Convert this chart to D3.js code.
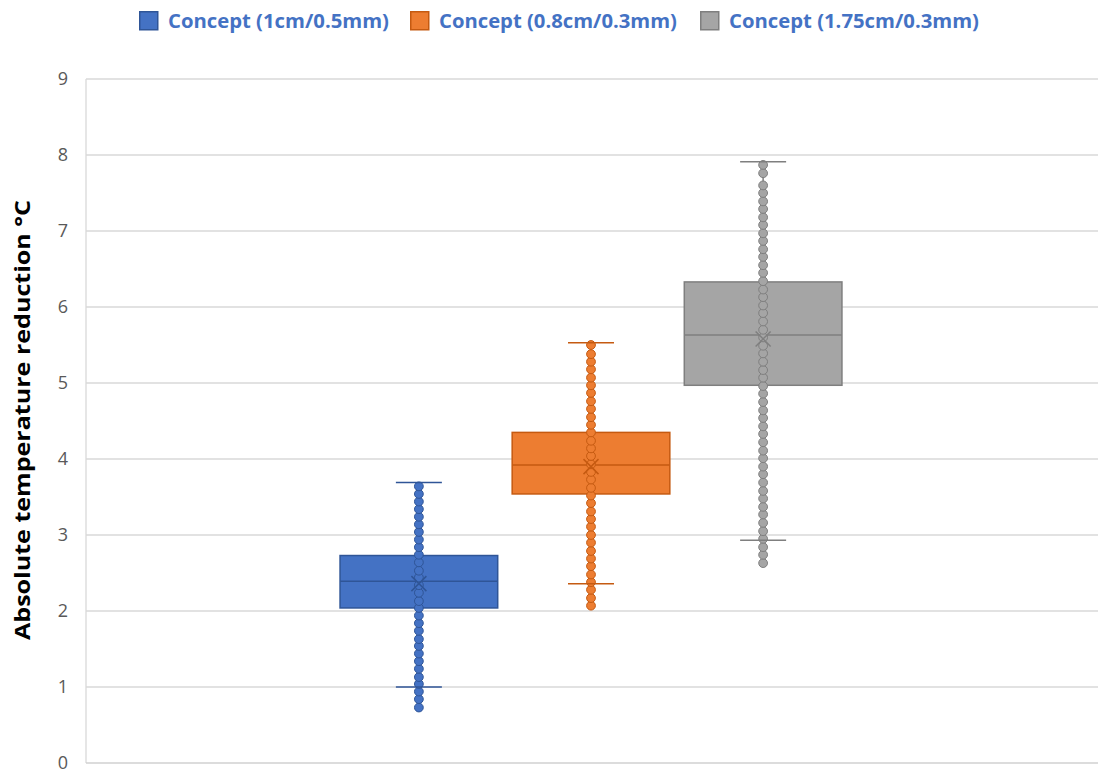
<!DOCTYPE html>
<html>
<head>
<meta charset="utf-8">
<script src="https://cdn.jsdelivr.net/npm/d3@7"></script>
<style>
  html, body { margin: 0; padding: 0; background: #ffffff; }
  svg { display: block; }
</style>
</head>
<body>
<svg id="chart" width="1098" height="773"></svg>
<script>
// Series names and colours
const seriesNames = ["Concept (1cm/0.5mm)", "Concept (0.8cm/0.3mm)", "Concept (1.75cm/0.3mm)"];
const fillColors = ["#4472C4", "#ED7D31", "#A5A5A5"];
const lineColors = ["#2F5597", "#C55A11", "#7F7F7F"];

// Box statistics per series
const q1Values = [2.04, 3.54, 4.97];
const medianValues = [2.39, 3.92, 5.63];
const q3Values = [2.73, 4.35, 6.33];
const whiskerLow = [1.00, 2.36, 2.93];
const whiskerHigh = [3.69, 5.53, 7.91];
const meanValues = [2.36, 3.90, 5.58];

// Individual data points per series
const pointsA = [0.73, 0.84, 0.94, 1.04, 1.13, 1.24, 1.34, 1.44, 1.54, 1.63, 1.74, 1.84, 1.94, 2.04, 2.13,
  2.24, 2.34, 2.44, 2.53, 2.64, 2.74, 2.84, 2.94, 3.04, 3.14, 3.24, 3.34, 3.44, 3.54, 3.64];
const pointsB = [2.07, 2.17, 2.28, 2.38, 2.48, 2.59, 2.69, 2.79, 2.90, 3.00, 3.11, 3.21, 3.31, 3.42, 3.52,
  3.62, 3.73, 3.83, 3.93, 4.04, 4.14, 4.24, 4.35, 4.45, 4.55, 4.66, 4.76, 4.87, 4.97, 5.07, 5.18, 5.28, 5.38, 5.50];
const pointsC = [2.63, 2.74, 2.84, 2.95, 3.05, 3.16, 3.27, 3.37, 3.48, 3.58, 3.69, 3.80, 3.90, 4.01, 4.11,
  4.22, 4.33, 4.43, 4.54, 4.64, 4.75, 4.86, 4.96, 5.07, 5.17, 5.28, 5.39, 5.49, 5.60, 5.70, 5.81, 5.92,
  6.02, 6.13, 6.23, 6.34, 6.45, 6.55, 6.66, 6.76, 6.87, 6.97, 7.08, 7.18, 7.29, 7.39, 7.50, 7.60, 7.76, 7.87];
const pointSets = [pointsA, pointsB, pointsC];

const yTicks = [0, 1, 2, 3, 4, 5, 6, 7, 8, 9];
const yTitle = "Absolute temperature reduction °C";

const series = seriesNames.map((name, i) => ({
  name, i,
  q1: q1Values[i], median: medianValues[i], q3: q3Values[i],
  lo: whiskerLow[i], hi: whiskerHigh[i], mean: meanValues[i],
  points: pointSets[i]
}));

const svg = d3.select("#chart");
const plot = { left: 86, right: 1096, top: 79, bottom: 763 };

const y = d3.scaleLinear().domain([0, 9]).range([plot.bottom, plot.top]);
const xCat = d3.scaleBand().domain(["all"]).range([plot.left, plot.right]).paddingInner(0).paddingOuter(0.478);
const xSer = d3.scaleBand().domain(seriesNames).range([0, xCat.bandwidth()]).paddingInner(0.084).paddingOuter(0.042);

// Gridlines
const grid = svg.append("g");
grid.selectAll("line").data(yTicks.filter(t => t > 0)).join("line")
  .attr("x1", plot.left).attr("x2", 1098)
  .attr("y1", d => y(d)).attr("y2", d => y(d))
  .attr("stroke", "#D9D9D9").attr("stroke-width", 1.3);

// Axis lines
svg.append("line").attr("x1", plot.left).attr("x2", plot.left)
  .attr("y1", plot.top).attr("y2", plot.bottom).attr("stroke", "#D9D9D9").attr("stroke-width", 1.3);
svg.append("line").attr("x1", plot.left).attr("x2", 1098)
  .attr("y1", plot.bottom).attr("y2", plot.bottom).attr("stroke", "#D0D0D0").attr("stroke-width", 1.5);

// Y tick labels
const yAxis = d3.axisLeft(y).tickValues(yTicks).tickSize(0).tickPadding(18).tickFormat(d3.format("d"));
const yg = svg.append("g").attr("transform", `translate(${plot.left},0)`).call(yAxis);
yg.select(".domain").remove();
yg.selectAll("text").attr("font-family", "Open Sans, sans-serif").attr("font-size", 18)
  .attr("dy", "0.28em").attr("fill", "#595959");

// Y axis title
svg.append("text")
  .attr("transform", `translate(30,420) rotate(-90)`)
  .attr("text-anchor", "middle")
  .attr("font-family", "Open Sans, sans-serif").attr("font-weight", 700).attr("font-size", 22)
  .attr("textLength", 440).attr("lengthAdjust", "spacingAndGlyphs")
  .attr("fill", "#000").text(yTitle);

// Boxes, whiskers, points and means
const g = svg.append("g").attr("transform", `translate(${xCat("all")},0)`);
const capHalf = 23;
series.forEach(s => {
  const x0 = xSer(s.name), w = xSer.bandwidth(), cx = x0 + w / 2;
  const sg = g.append("g");
  sg.append("line").attr("x1", cx).attr("x2", cx).attr("y1", y(s.hi)).attr("y2", y(s.q3))
    .attr("stroke", lineColors[s.i]).attr("stroke-width", 1.5);
  sg.append("line").attr("x1", cx).attr("x2", cx).attr("y1", y(s.q1)).attr("y2", y(s.lo))
    .attr("stroke", lineColors[s.i]).attr("stroke-width", 1.5);
  sg.append("rect").attr("x", x0).attr("width", w)
    .attr("y", y(s.q3)).attr("height", y(s.q1) - y(s.q3))
    .attr("fill", fillColors[s.i]).attr("stroke", lineColors[s.i]).attr("stroke-width", 1.5);
  sg.append("line").attr("x1", x0).attr("x2", x0 + w).attr("y1", y(s.median)).attr("y2", y(s.median))
    .attr("stroke", lineColors[s.i]).attr("stroke-width", 1.5);
  sg.selectAll("circle").data(s.points).join("circle")
    .attr("cx", cx).attr("cy", d => y(d)).attr("r", 4.4)
    .attr("fill", fillColors[s.i]).attr("stroke", lineColors[s.i]).attr("stroke-width", 1);
  [s.lo, s.hi].forEach(v => {
    sg.append("line").attr("x1", cx - capHalf).attr("x2", cx + capHalf).attr("y1", y(v)).attr("y2", y(v))
      .attr("stroke", lineColors[s.i]).attr("stroke-width", 1.5);
  });
  const my = y(s.mean), m = 7.5;
  sg.append("path").attr("d", `M${cx - m},${my - m}L${cx + m},${my + m}M${cx - m},${my + m}L${cx + m},${my - m}`)
    .attr("stroke", lineColors[s.i]).attr("stroke-width", 1.5).attr("fill", "none");
});

// Legend
const legendX = [139, 410, 700];
const legendW = [221, 238, 250];
const lg = svg.append("g");
series.forEach(s => {
  lg.append("rect").attr("x", legendX[s.i] + 0.75).attr("y", 11.75).attr("width", 18).attr("height", 18)
    .attr("fill", fillColors[s.i]).attr("stroke", lineColors[s.i]).attr("stroke-width", 1.5);
  lg.append("text").attr("x", legendX[s.i] + 29).attr("y", 28)
    .attr("font-family", "Open Sans, sans-serif").attr("font-weight", 700).attr("font-size", 19)
    .attr("textLength", legendW[s.i]).attr("lengthAdjust", "spacingAndGlyphs")
    .attr("fill", "#4472C4").text(s.name);
});
</script>
</body>
</html>
